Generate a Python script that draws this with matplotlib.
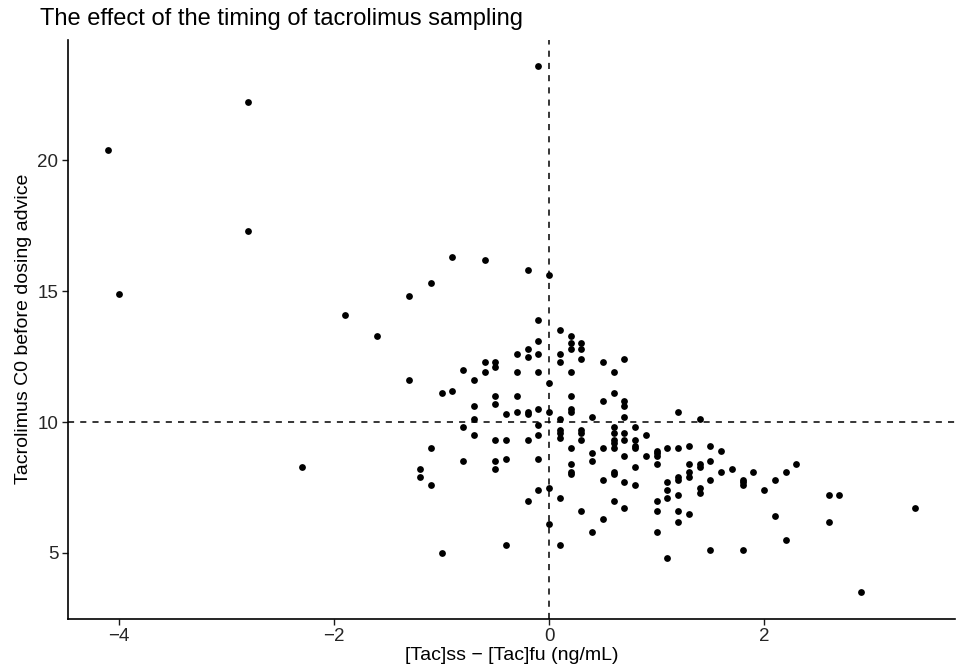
import matplotlib
matplotlib.use("Agg")
import matplotlib.pyplot as plt

plt.rcParams['font.family'] = ['Liberation Sans', 'DejaVu Sans']

# [Tac]ss - [Tac]fu (ng/mL)
x_diff = [
    -4.1, -2.8, -2.8, -4.0, -1.9, -1.6, -0.1, -2.3,
    -1.3, -1.1, -0.9, -0.6, -0.2, 0.0, -1.3, -0.1, -0.1, -0.2, -0.3, -0.2, -0.1,
    -0.6, -0.5, -0.5, -0.8, -0.6, -0.3, -0.1, -0.7, 0.0, -1.0, -0.9, -0.5, -0.3,
    -0.7, -0.5, -0.4, -0.3, -0.2, -0.2, -0.1, 0.0, -0.7, -0.8, -0.1, -0.7,
    -0.5, -0.4, -0.2, -0.1,
    0.1, 0.2, 0.2, 0.2, 0.3, 0.3, 0.1, 0.1, 0.3, 0.5, 0.7, 0.2, 0.6, 0.6, 0.2,
    0.5, 0.7, 0.7, 0.2, 0.2, 0.4, 0.7, 1.2, 1.4, 0.1,
    0.1, 0.1, -1.1, -0.8, -0.5, -0.4, -0.1, -0.5, -1.2, -1.2, -1.1, 0.0, -0.1,
    -0.2, 0.1, 0.0, -0.4, -1.0, 0.1,
    0.1, 0.3, 0.3, 0.3, 0.6, 0.6, 0.6, 0.6, 0.6, 0.7, 0.7, 0.7, 0.8, 0.8, 0.8,
    0.8, 0.9, 0.9, 0.2, 0.2, 0.2, 0.2, 0.4, 0.4, 0.5, 0.6, 0.6, 0.5, 0.7, 0.8,
    0.8, 1.0, 1.0, 1.0, 1.0, 1.1, 1.2, 1.3, 1.5, 1.6, 1.3, 1.4, 1.4, 1.5, 1.3,
    1.3, 1.2, 1.2, 1.1, 1.1, 1.1, 1.2, 1.0, 1.0, 1.2, 1.3, 1.2, 1.0, 1.1, 1.5,
    1.8, 1.5, 1.4, 1.4, 1.6, 1.7, 1.8, 1.8, 1.8, 1.9, 2.0, 0.3, 0.5, 0.6, 0.7,
    0.4,
    2.1, 2.2, 2.3, 2.1, 2.2, 2.6, 2.7, 2.6, 3.4, 2.9,
]

# Tacrolimus C0 before dosing advice
c0_before = [
    20.4, 22.2, 17.3, 14.9, 14.1, 13.3, 23.6, 8.3,
    14.8, 15.3, 16.3, 16.2, 15.8, 15.6, 11.6, 13.9, 13.1, 12.8, 12.6, 12.5, 12.6,
    12.3, 12.3, 12.1, 12.0, 11.9, 11.9, 11.9, 11.6, 11.5, 11.1, 11.2, 11.0, 11.0,
    10.6, 10.7, 10.3, 10.4, 10.4, 10.3, 10.5, 10.4, 10.1, 9.8, 9.9, 9.5,
    9.3, 9.3, 9.3, 9.5,
    13.5, 13.3, 13.0, 12.8, 13.0, 12.8, 12.6, 12.3, 12.4, 12.3, 12.4, 11.9, 11.9,
    11.1, 11.0,
    10.8, 10.8, 10.6, 10.5, 10.4, 10.2, 10.2, 10.4, 10.1, 10.1,
    9.7, 9.4, 9.0, 8.5, 8.5, 8.6, 8.6, 8.2, 8.2, 7.9, 7.6, 7.5, 7.4,
    7.0, 7.1, 6.1, 5.3, 5.0, 5.3,
    9.6, 9.7, 9.6, 9.3, 9.8, 9.6, 9.3, 9.2, 9.0, 9.6, 9.3, 8.7, 9.8, 9.3, 9.1,
    9.0, 9.5, 8.7, 9.0, 8.4, 8.1, 8.0, 8.8, 8.5, 9.0, 8.1, 8.0, 7.8, 7.7, 8.3,
    7.6, 8.9, 8.8, 8.7, 8.4, 9.0, 9.0, 9.1, 9.1, 8.9, 8.4, 8.4, 8.3, 8.5, 8.1,
    7.9, 7.9, 7.8, 7.7, 7.4, 7.1, 7.2, 7.0, 6.6, 6.6, 6.5, 6.2, 5.8, 4.8, 5.1,
    5.1, 7.8, 7.5, 7.3, 8.1, 8.2, 7.8, 7.7, 7.6, 8.1, 7.4, 6.6, 6.3, 7.0, 6.7,
    5.8,
    7.8, 8.1, 8.4, 6.4, 5.5, 7.2, 7.2, 6.2, 6.7, 3.5,
]

title = "The effect of the timing of tacrolimus sampling"
x_label = "[Tac]ss \u2212 [Tac]fu (ng/mL)"
y_label = "Tacrolimus C0 before dosing advice"
x_ticks = [-4, -2, 0, 2]
y_ticks = [5, 10, 15, 20]
x_ref = 0
y_ref = 10

fig = plt.figure(figsize=(9.61, 6.70), dpi=100)
ax = fig.add_axes([68 / 961, (670 - 618.6) / 670, (955 - 68) / 961, (618.6 - 39.5) / 670])

ax.scatter(x_diff, c0_before, s=24, color='black', linewidths=0, zorder=3)
ax.axvline(x_ref, color='black', linestyle=(0, (4, 4)), linewidth=1.1, zorder=2)
ax.axhline(y_ref, color='black', linestyle=(0, (4, 4)), linewidth=1.1, zorder=2)

xmin, xmax = min(x_diff), max(x_diff)
ymin, ymax = min(c0_before), max(c0_before)
xr, yr = xmax - xmin, ymax - ymin
ax.set_xlim(xmin - 0.05 * xr, xmax + 0.05 * xr)
ax.set_ylim(ymin - 0.05 * yr, ymax + 0.05 * yr)

ax.set_xticks(x_ticks)
ax.set_yticks(y_ticks)
ax.set_xticklabels([str(t).replace('-', '\u2212') for t in x_ticks])
ax.tick_params(axis='both', labelsize=13.5, colors='#1a1a1a', length=4.5, width=1,
               direction='out', pad=2.5)
ax.tick_params(axis='both', labelcolor='#262626')
for side in ['top', 'right']:
    ax.spines[side].set_visible(False)
for side in ['left', 'bottom']:
    ax.spines[side].set_linewidth(1.2)
    ax.spines[side].set_color('black')

ax.set_xlabel(x_label, fontsize=14, labelpad=1)
ax.set_ylabel(y_label, fontsize=14, labelpad=4)
fig.text(40 / 961, 1 - 19 / 670, title, fontsize=17, ha='left', va='center')

fig.savefig("out.png", dpi=100)
